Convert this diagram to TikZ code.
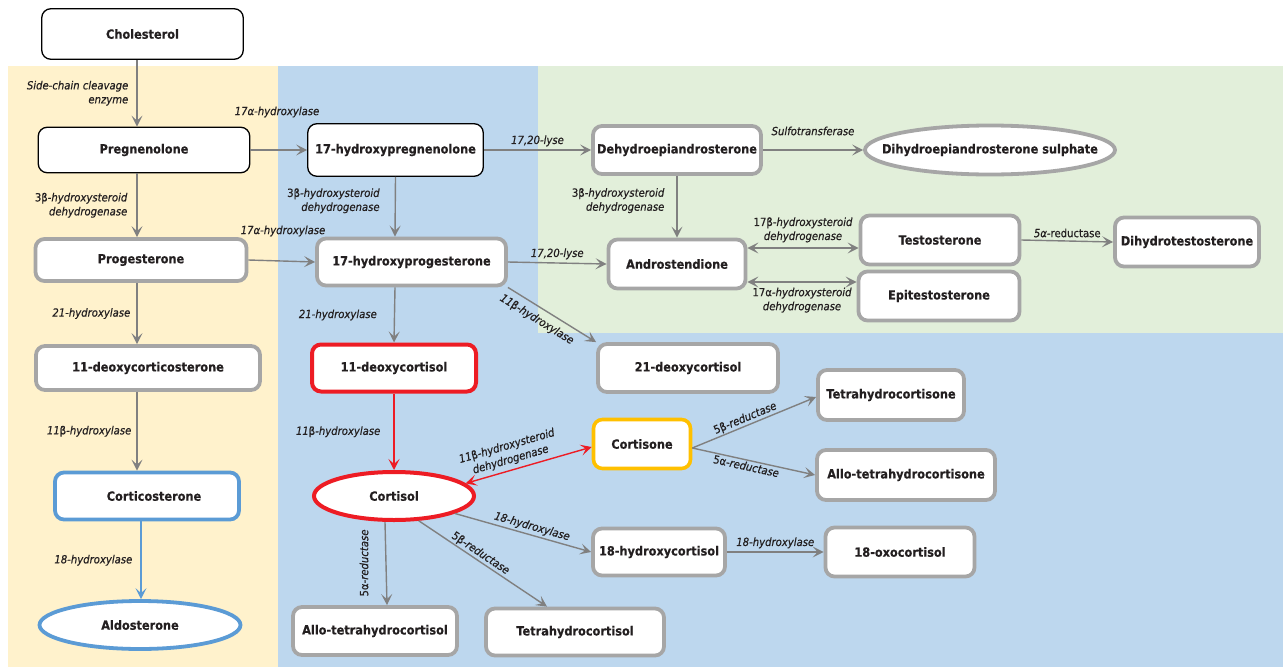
\documentclass[tikz,border=0pt]{standalone}
\usepackage{fontspec}
\setmainfont{DejaVu Sans}
\newfontfamily\nodefont[FakeStretch=0.9,FakeBold=0.5]{DejaVu Sans}
\newfontfamily\labfont[FakeStretch=0.9,FakeBold=0.5]{DejaVu Sans}
\usetikzlibrary{arrows.meta,shapes.geometric}
\definecolor{bgyellow}{RGB}{255,242,204}
\definecolor{bgblue}{RGB}{189,215,238}
\definecolor{bggreen}{RGB}{226,239,218}
\definecolor{edgegray}{RGB}{128,128,128}
\definecolor{boxgray}{RGB}{166,166,166}
\definecolor{cred}{RGB}{237,28,36}
\definecolor{cblue}{RGB}{91,155,213}
\definecolor{corange}{RGB}{255,192,0}
\definecolor{txt}{RGB}{35,31,32}
\tikzset{
  nfont/.style={font=\nodefont\bfseries\fontsize{12.6}{15}\selectfont, text=txt},
  box/.style={rectangle, rounded corners=9pt, fill=white, inner sep=0pt, nfont},
  blackbox/.style={box, draw=black, line width=1.3pt},
  graybox/.style={box, draw=boxgray, line width=3.8pt},
  redbox/.style={box, draw=cred, line width=4pt},
  orangebox/.style={box, draw=corange, line width=3.6pt},
  bluebox/.style={box, draw=cblue, line width=3.8pt},
  oval/.style={ellipse, fill=white, inner sep=0pt, nfont},
  sz/.style n args={2}{minimum width=#1pt, minimum height=#2pt},
  lab/.style={font=\labfont\itshape\fontsize{11.2}{14}\selectfont, text=txt, inner sep=1pt, align=center},
  arr/.style={draw=edgegray, line width=1.4pt, -{Stealth[length=11pt,width=11pt,inset=5pt]}},
  darr/.style={draw=edgegray, line width=1.4pt, {Stealth[length=11pt,width=11pt,inset=5pt]}-{Stealth[length=11pt,width=11pt,inset=5pt]}},
  redarr/.style={arr, draw=cred},
  reddarr/.style={darr, draw=cred},
  bluearr/.style={arr, draw=cblue},
}
\begin{document}
\begin{tikzpicture}[x=1pt,y=-1pt]
\useasboundingbox (0,0) rectangle (1283,667);
% backgrounds
\fill[white] (0,0) rectangle (1283,667);
\fill[bgyellow] (8,66) rectangle (278,667);
\fill[bgblue] (278,66) rectangle (1283,667);
\fill[bggreen] (538,66) rectangle (1283,333);

% nodes
\node[blackbox, sz={201.5}{50.5}] (chol) at (142.5,34) {Cholesterol};
\node[blackbox, sz={211.5}{45.5}] (preg) at (144,150) {Pregnenolone};
\node[graybox, sz={211}{42}] (prog) at (141,260) {Progesterone};
\node[graybox, sz={224}{44}] (doc) at (148,368) {11-deoxycorticosterone};
\node[bluebox, sz={184}{47}] (cortico) at (147,496) {\hspace{14pt}Corticosterone};
\node[oval, draw=cblue, line width=3.8pt, sz={201}{48}] (aldo) at (140,625) {Aldosterone};

\node[blackbox, sz={175.5}{52.5}] (ohpreg) at (395.5,150) {17-hydroxypregnenolone};
\node[graybox, sz={189}{47}] (ohprog) at (411.5,262) {17-hydroxyprogesterone};
\node[redbox, sz={164}{47}] (dcort) at (394,368) {11-deoxycortisol};
\node[oval, draw=cred, line width=4pt, sz={160}{48}] (cortisol) at (394,496) {Cortisol};
\node[graybox, sz={164}{48}] (athc) at (375,631) {Allo-tetrahydrocortisol};
\node[graybox, sz={178}{47}] (thc) at (575,632) {Tetrahydrocortisol};

\node[graybox, sz={168}{48}] (dhea) at (677,150) {Dehydroepiandrosterone};
\node[oval, draw=boxgray, line width=3.8pt, sz={250}{49}] (dheas) at (990,150) {};
\node[nfont, inner sep=0pt] (dheastxt) at (dheas.center) {Dihydroepiandrosterone sulphate};
\node[graybox, sz={137}{49}] (andro) at (677,264) {Androstendione};
\node[graybox, sz={159}{49}] (testo) at (940,240) {Testosterone};
\node[graybox, sz={161}{49}] (epi) at (939,296) {Epitestosterone};
\node[graybox, sz={144}{49}] (dht) at (1187,242) {Dihydrotestosterone};

\node[graybox, sz={180}{48}] (d21) at (688,368) {21-deoxycortisol};
\node[graybox, sz={146}{50}] (thcone) at (891,395) {Tetrahydrocortisone};
\node[orangebox, sz={97}{49}] (cortisone) at (642,444) {Cortisone};
\node[graybox, sz={178}{50}] (athcone) at (906,475) {Allo-tetrahydrocortisone};
\node[graybox, sz={132}{47}] (ohc18) at (659,552) {18-hydroxycortisol};
\node[graybox, sz={149}{49}] (oxo) at (900,552) {18-oxocortisol};

% left column
\draw[arr] ([xshift=-5.5pt]chol.south) -- ([xshift=-7pt]preg.north)
  node[lab, midway, left=7pt, align=right] {Side-chain cleavage\\enzyme};
\draw[arr] ([xshift=-7pt]preg.south) -- ([xshift=-4pt]prog.north)
  node[lab, midway, left=8pt, align=right] {{\upshape 3β}-hydroxysteroid\\dehydrogenase};
\draw[arr] ([xshift=-4pt]prog.south) -- ([xshift=-11pt]doc.north)
  node[lab, midway, left=5pt] {21-hydroxylase};
\draw[arr] ([xshift=-11pt]doc.south) -- ([xshift=-10pt]cortico.north)
  node[lab, midway, left=4pt] {11{\upshape β}-hydroxylase};
\draw[bluearr] ([xshift=-6pt]cortico.south) -- ([xshift=1pt]aldo.north)
  node[lab, midway, left=7pt] {18-hydroxylase};

% 17-hydroxylase steps
\draw[arr] (preg.east) -- (ohpreg.west);
\node[lab] (l17a1) at (277,112) {17α-hydroxylase};
\draw[arr] (prog.east) -- (ohprog.west);
\node[lab] (l17a2) at (283,231) {17α-hydroxylase};

% middle column
\draw[arr] (ohpreg.south) -- ([xshift=-16.5pt]ohprog.north)
  node[lab, pos=0.4, left=14pt, align=right] {{\upshape 3β}-hydroxysteroid\\dehydrogenase};
\draw[arr] (ohpreg.east) -- (dhea.west)
  node[lab, midway, above=2pt] {17,20-lyse};
\draw[arr] (ohprog.east) -- (andro.west)
  node[lab, midway, above=2pt] {17,20-lyse};
\draw[arr] ([xshift=-16.5pt]ohprog.south) -- (dcort.north)
  node[lab, midway, left=16pt] {21-hydroxylase};
\draw[arr] (ohprog.south east) -- (d21.north west)
  node[lab, pos=0.4, below=5pt, sloped] {11{\upshape β}-hydroxylase};
\draw[redarr] (dcort.south) -- (cortisol.north)
  node[lab, midway, left=12pt] {11{\upshape β}-hydroxylase};
\draw[reddarr] (cortisol.10) -- ([yshift=-3pt]cortisone.west)
  node[lab, pos=0.38, above=3pt, sloped] {11{\upshape β}-hydroxysteroid\\dehydrogenase};
\draw[arr] ([xshift=-9pt]cortisol.south) -- ([xshift=12pt]athc.north);
\node[lab, rotate=90] (l5a) at (364,563) {{\upshape 5α}-reductase};
\draw[arr] (cortisol.-45) -- ([xshift=-28pt]thc.north)
  node[lab, pos=0.45, above=0pt, sloped] {{\upshape 5β}-reductase};
\draw[arr] (cortisol.-16) -- (ohc18.west)
  node[lab, pos=0.55, above=1pt, sloped] {18-hydroxylase};
\draw[arr] (ohc18.east) -- (oxo.west)
  node[lab, midway, above=2pt] {18-hydroxylase};
\draw[arr] ([yshift=-4pt]cortisone.east) -- ([yshift=-2pt]thcone.west)
  node[lab, pos=0.45, above=0pt, sloped] {{\upshape 5β}-reductase};
\draw[arr] ([yshift=-4pt]cortisone.east) -- (athcone.west)
  node[lab, pos=0.45, below=0pt, sloped] {{\upshape 5α}-reductase};

% androgen part
\draw[arr] (dhea.east) -- (dheas.west)
  node[lab, midway, above=13pt] {Sulfotransferase};
\draw[arr] (dhea.south) -- (andro.north)
  node[lab, pos=0.4, left=11pt, align=right] {{\upshape 3β}-hydroxysteroid\\dehydrogenase};
\draw[darr] ([yshift=16pt]andro.east) -- ([yshift=-8pt]testo.west)
  node[lab, midway, above=4pt] {{\upshape 17β}-hydroxysteroid\\dehydrogenase};
\draw[darr] ([yshift=-18pt]andro.east) -- ([yshift=14pt]epi.west)
  node[lab, midway, below=4pt] {{\upshape 17α}-hydroxysteroid\\dehydrogenase};
\draw[arr] (testo.east) -- (dht.west)
  node[lab, midway, above=2pt] {5α-{\upshape reductase}};
\end{tikzpicture}
\end{document}
